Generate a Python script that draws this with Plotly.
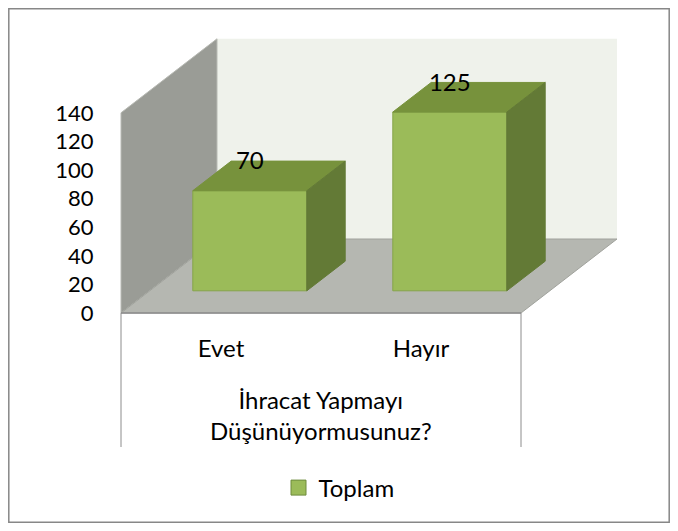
import plotly.graph_objects as go

# ---------------- data ----------------
categories = ["Evet", "Hayır"]
values = [70, 125]
series_name = "Toplam"
y_ticks = [0, 20, 40, 60, 80, 100, 120, 140]
axis_title = ["İhracat Yapmayı", "Düşünüyormusunuz?"]

# ---------------- layout / projection constants ----------------
PAGE_OFF = 8                      # default page body margin
W, H = 678 - 2 * PAGE_OFF, 531 - 2 * PAGE_OFF

def fx(px):   # reference page x -> figure x
    return px - PAGE_OFF

def fy(py):   # reference page y -> figure y
    return py - PAGE_OFF

PX_PER_X = 200.0      # pixels per category step
X0_PX = fx(221.0)     # pixel x of category 0 on the front plane
PX_PER_V = 1.43       # pixels per value unit
Y0_PX = fy(313.0)     # pixel y of value 0 on the front plane

DEPTH_X = 96.0 / PX_PER_X     # x shift for full depth
DEPTH_Y = 74.0 / PX_PER_V     # value shift for full depth
Z0, Z1 = 0.3, 0.7             # bar front/back depth
BAR_W = 0.57
YMAX = max(y_ticks)

FONT = "Lato"
FS = 24
FS_TICK = 22

C_FRONT = "#9BBB59"
C_TOP = "#77923C"
C_SIDE = "#637A36"
C_EDGE = "#86A44A"
C_BACK = "#EFF2EB"
C_LEFT = "#9A9C96"
C_FLOOR = "#B5B7B1"
C_LINE = "#8C8C8C"

x_range = [(0 - X0_PX) / PX_PER_X, (W - X0_PX) / PX_PER_X]
y_range = [(Y0_PX - H) / PX_PER_V, Y0_PX / PX_PER_V]

def v_of_px(py_ref):
    return (Y0_PX - fy(py_ref)) / PX_PER_V

xpos = list(range(len(categories)))
xl_floor, xr_floor = -0.5, len(categories) - 0.5

fig = go.Figure()

# front faces (real bars)
base = Z0 * DEPTH_Y
fig.add_trace(go.Bar(
    x=[c + Z0 * DEPTH_X for c in xpos], y=values, base=base, width=BAR_W,
    marker=dict(color=C_FRONT, line=dict(color=C_EDGE, width=1)),
    name=series_name, showlegend=False, hoverinfo="skip",
))

# top and side faces
dx = (Z1 - Z0) * DEPTH_X
dy = (Z1 - Z0) * DEPTH_Y
tx, ty, sx, sy = [], [], [], []
for c, v in zip(xpos, values):
    xl = c + Z0 * DEPTH_X - BAR_W / 2
    xr = c + Z0 * DEPTH_X + BAR_W / 2
    top = base + v
    tx += [xl, xr, xr + dx, xl + dx, xl, None]
    ty += [top, top, top + dy, top + dy, top, None]
    sx += [xr, xr + dx, xr + dx, xr, xr, None]
    sy += [base, base + dy, top + dy, top, base, None]
fig.add_trace(go.Scatter(x=tx, y=ty, fill="toself", fillcolor=C_TOP, mode="lines",
                         line=dict(color=C_TOP, width=1), showlegend=False, hoverinfo="skip"))
fig.add_trace(go.Scatter(x=sx, y=sy, fill="toself", fillcolor=C_SIDE, mode="lines",
                         line=dict(color=C_SIDE, width=1), showlegend=False, hoverinfo="skip"))

# data labels
fig.add_trace(go.Scatter(
    x=[c + Z0 * DEPTH_X for c in xpos],
    y=[base + v + dy - 1.5 for v in values],
    text=[str(v) for v in values], mode="text", textposition="middle center",
    textfont=dict(family=FONT, size=FS, color="#000000"),
    showlegend=False, hoverinfo="skip", cliponaxis=False,
))

# legend entry (square swatch)
fig.add_trace(go.Scatter(
    x=[None], y=[None], mode="markers", name=series_name,
    marker=dict(symbol="square", size=15, color=C_FRONT, line=dict(color="#6E8B3D", width=1)),
    showlegend=True, hoverinfo="skip",
))

# walls and floor
def path(pts):
    return "M " + " L ".join(f"{x} {y}" for x, y in pts) + " Z"

bx0, bx1 = xl_floor + DEPTH_X, xr_floor + DEPTH_X
shapes = [
    dict(type="path", xref="x", yref="y", layer="below",
         path=path([(bx0, DEPTH_Y), (bx1, DEPTH_Y), (bx1, DEPTH_Y + YMAX), (bx0, DEPTH_Y + YMAX)]),
         fillcolor=C_BACK, line=dict(width=0)),
    dict(type="path", xref="x", yref="y", layer="below",
         path=path([(xl_floor, 0), (bx0, DEPTH_Y), (bx0, DEPTH_Y + YMAX), (xl_floor, YMAX)]),
         fillcolor=C_LEFT, line=dict(color="#B8BAB4", width=1)),
    dict(type="path", xref="x", yref="y", layer="below",
         path=path([(xl_floor, 0), (xr_floor, 0), (bx1, DEPTH_Y), (bx0, DEPTH_Y)]),
         fillcolor=C_FLOOR, line=dict(color="#A0A29C", width=1)),
    dict(type="line", xref="x", yref="y", x0=xl_floor, x1=xr_floor, y0=0, y1=0,
         line=dict(color=C_LINE, width=1.5)),
    dict(type="line", xref="x", yref="y", x0=xl_floor, x1=xl_floor, y0=0, y1=v_of_px(447),
         line=dict(color=C_LINE, width=1)),
    dict(type="line", xref="x", yref="y", x0=xr_floor, x1=xr_floor, y0=0, y1=v_of_px(447),
         line=dict(color=C_LINE, width=1)),
    # chart border
    dict(type="rect", xref="paper", yref="paper", x0=0.8 / W, x1=1 - 0.8 / W,
         y0=0.8 / H, y1=1 - 0.8 / H, line=dict(color="#878787", width=1.5)),
]

fig.update_layout(
    width=W, height=H, margin=dict(l=0, r=0, t=0, b=0),
    paper_bgcolor="white", plot_bgcolor="white",
    font=dict(family=FONT, size=FS, color="#000000"),
    shapes=shapes,
    showlegend=True,
    legend=dict(orientation="h", x=0.5, xanchor="center", y=1 - fy(488) / H, yanchor="middle",
                font=dict(family=FONT, size=FS), bgcolor="rgba(0,0,0,0)", itemsizing="trace"),
    annotations=[dict(xref="x", yref="y", x=(xl_floor + xr_floor) / 2, y=v_of_px(415),
                      text="<br>".join(axis_title), showarrow=False,
                      font=dict(family=FONT, size=FS), align="center")],
    xaxis=dict(range=x_range, showgrid=False, zeroline=False, showline=False,
               tickvals=xpos, ticktext=categories, anchor="free",
               position=(H - Y0_PX) / H, ticks="outside", ticklen=14,
               tickcolor="rgba(0,0,0,0)", tickfont=dict(family=FONT, size=FS)),
    yaxis=dict(range=y_range, showgrid=False, zeroline=False, showline=False,
               tickvals=y_ticks, ticktext=[str(t) for t in y_ticks], anchor="free",
               position=fx(122) / W, ticks="outside", ticklen=24,
               tickcolor="rgba(0,0,0,0)", tickfont=dict(family=FONT, size=FS_TICK)),
)

fig.write_html("out.html")
